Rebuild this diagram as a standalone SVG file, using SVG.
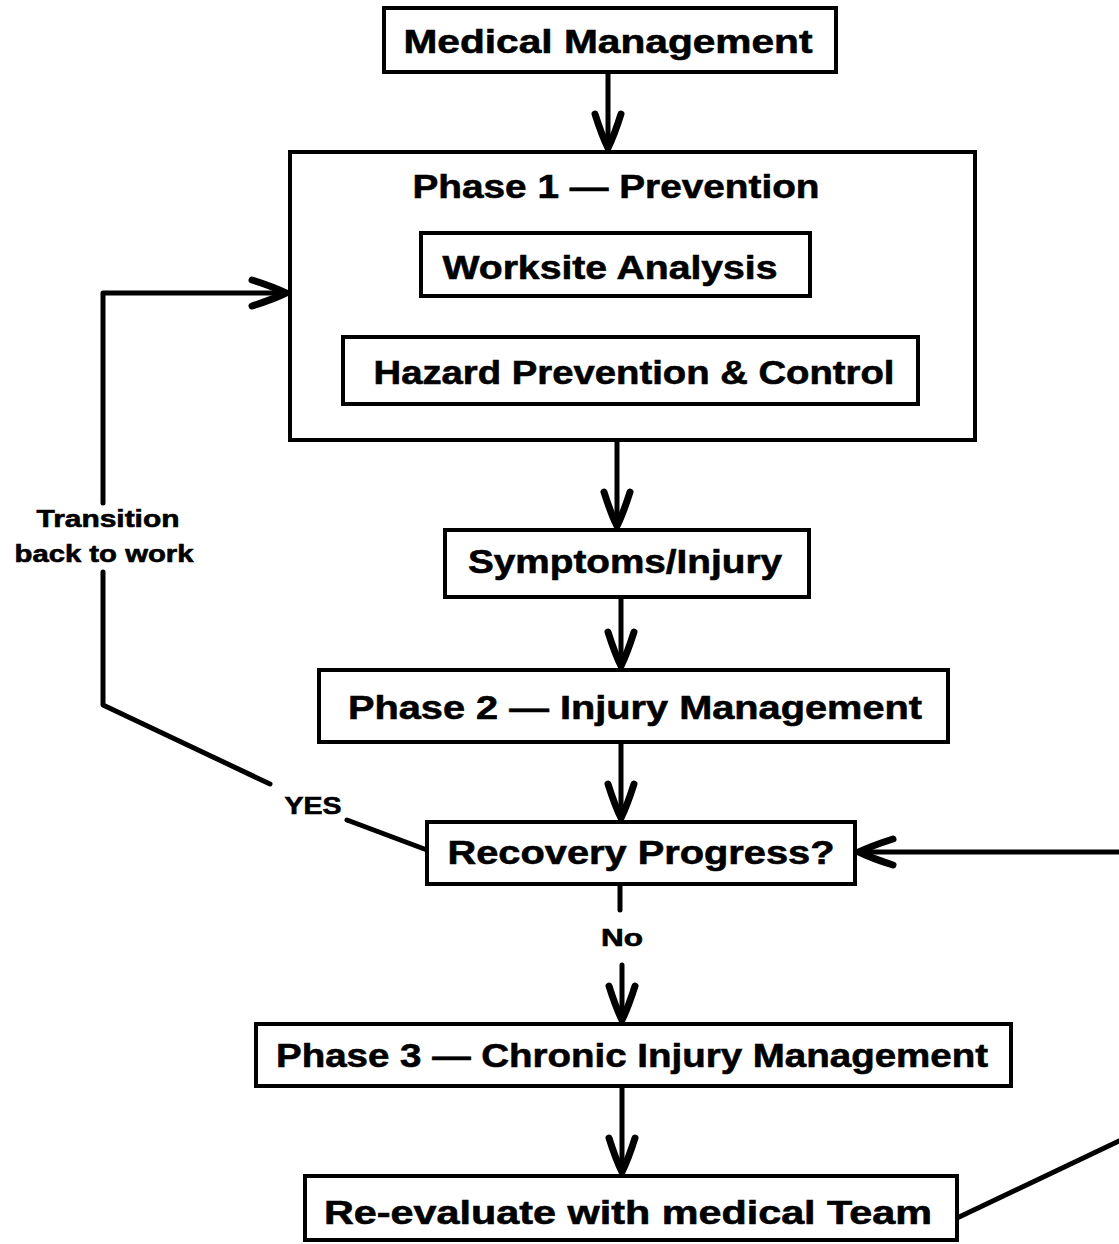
<svg xmlns="http://www.w3.org/2000/svg" width="1119" height="1244" viewBox="0 0 1119 1244">
<style>
.box{fill:#fff;stroke:#000;stroke-width:4}
.t{font-family:"Liberation Sans",Arial,sans-serif;font-weight:bold;font-size:34px;fill:#000;stroke:#000;stroke-width:0.6;text-anchor:middle}
.s{font-family:"Liberation Sans",Arial,sans-serif;font-weight:bold;font-size:23px;fill:#000;stroke:#000;stroke-width:0.6;text-anchor:middle}
.ln{fill:none;stroke:#000;stroke-width:5;stroke-linecap:round;stroke-linejoin:round}
</style>
<defs>
<marker id="ah" viewBox="-44 -20 48 40" markerWidth="48" markerHeight="40" refX="0" refY="0" orient="auto" markerUnits="userSpaceOnUse" overflow="visible">
<path d="M-36,-13 Q-14,-6 -2,0 Q-14,6 -36,13" fill="none" stroke="#000" stroke-width="7" stroke-linecap="round" stroke-linejoin="round"/>
</marker>
</defs>
<g id="connectors">
<line class="ln" x1="608" y1="72" x2="608" y2="150" marker-end="url(#ah)"/>
<line class="ln" x1="617" y1="440" x2="617" y2="528" marker-end="url(#ah)"/>
<line class="ln" x1="621" y1="597" x2="621" y2="668" marker-end="url(#ah)"/>
<line class="ln" x1="621" y1="742" x2="621" y2="820" marker-end="url(#ah)"/>
<line class="ln" x1="620" y1="884" x2="620" y2="910"/>
<line class="ln" x1="622" y1="965" x2="622" y2="1022" marker-end="url(#ah)"/>
<line class="ln" x1="622" y1="1086" x2="622" y2="1174" marker-end="url(#ah)"/>
<line class="ln" x1="957" y1="1218" x2="1121" y2="1140"/>
<line class="ln" x1="1121" y1="852" x2="857" y2="852" marker-end="url(#ah)"/>
<polyline class="ln" points="427,850 347,820"/>
<polyline class="ln" points="270,784 103,705 103,572"/>
<polyline class="ln" points="103,503 103,293 288,293" marker-end="url(#ah)"/>
<text class="s" x="313" y="814" textLength="57" lengthAdjust="spacingAndGlyphs">YES</text>
<text class="s" x="108" y="527" textLength="143" lengthAdjust="spacingAndGlyphs">Transition</text>
<text class="s" x="104" y="562" textLength="179" lengthAdjust="spacingAndGlyphs">back to work</text>
<text class="s" x="622" y="946" textLength="42" lengthAdjust="spacingAndGlyphs">No</text>
</g>
<g id="medical-management">
<rect class="box" x="384" y="8" width="452" height="64"/>
<text class="t" x="608" y="53" textLength="409" lengthAdjust="spacingAndGlyphs">Medical Management</text>
</g>
<g id="phase1">
<rect class="box" x="290" y="152" width="685" height="288"/>
<text class="t" x="616" y="198" textLength="407" lengthAdjust="spacingAndGlyphs">Phase 1 — Prevention</text>
</g>
<g id="worksite-analysis">
<rect class="box" x="421" y="233" width="389" height="63"/>
<text class="t" x="610" y="279" textLength="335" lengthAdjust="spacingAndGlyphs">Worksite Analysis</text>
</g>
<g id="hazard-prevention">
<rect class="box" x="343" y="337" width="575" height="67"/>
<text class="t" x="634" y="384" textLength="521" lengthAdjust="spacingAndGlyphs">Hazard Prevention &amp; Control</text>
</g>
<g id="symptoms-injury">
<rect class="box" x="445" y="530" width="364" height="67"/>
<text class="t" x="625" y="573" textLength="314" lengthAdjust="spacingAndGlyphs">Symptoms/Injury</text>
</g>
<g id="phase2">
<rect class="box" x="319" y="670" width="629" height="72"/>
<text class="t" x="635" y="719" textLength="574" lengthAdjust="spacingAndGlyphs">Phase 2 — Injury Management</text>
</g>
<g id="recovery-progress">
<rect class="box" x="427" y="822" width="428" height="62"/>
<text class="t" x="641" y="864" textLength="387" lengthAdjust="spacingAndGlyphs">Recovery Progress?</text>
</g>
<g id="phase3">
<rect class="box" x="256" y="1024" width="755" height="62"/>
<text class="t" x="632" y="1067" textLength="712" lengthAdjust="spacingAndGlyphs">Phase 3 — Chronic Injury Management</text>
</g>
<g id="re-evaluate">
<rect class="box" x="305" y="1176" width="652" height="64"/>
<text class="t" x="628" y="1224" textLength="608" lengthAdjust="spacingAndGlyphs">Re-evaluate with medical Team</text>
</g>
</svg>
